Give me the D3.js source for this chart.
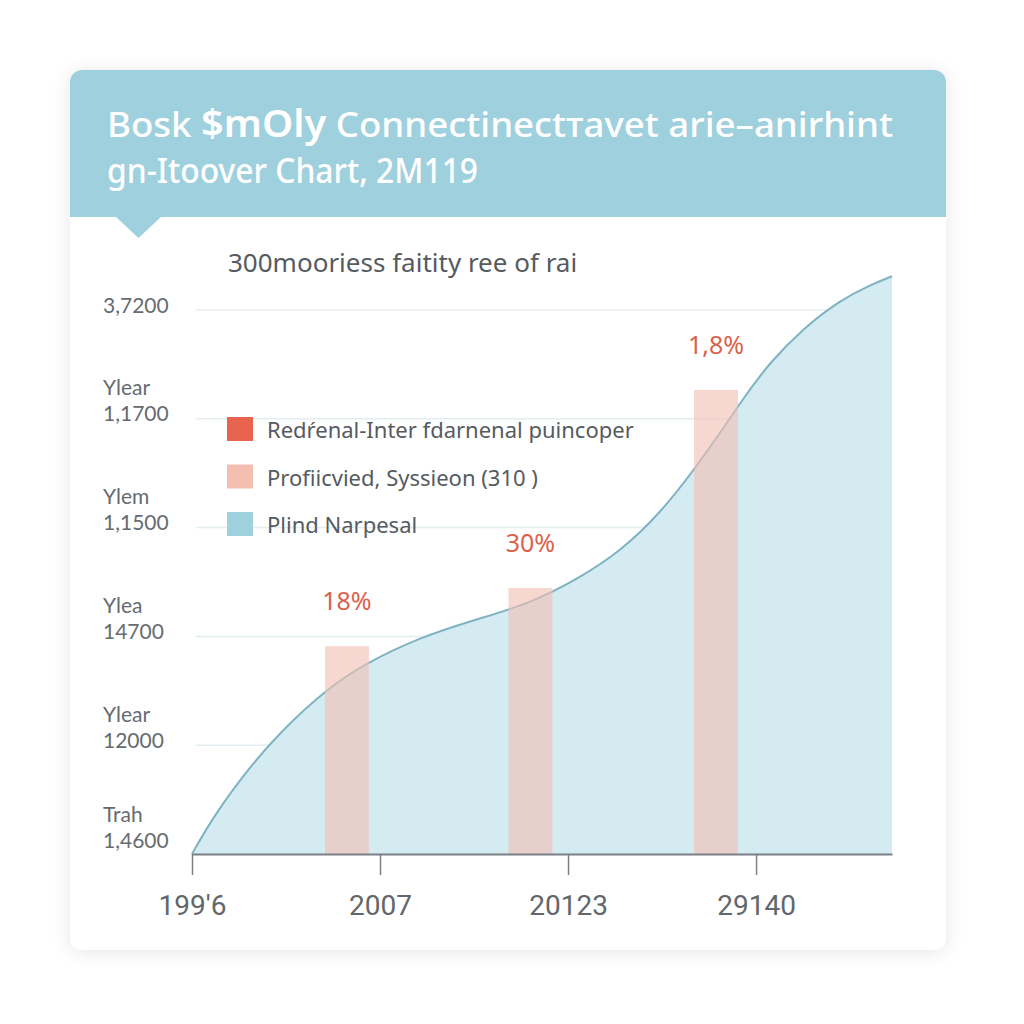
<!DOCTYPE html>
<html>
<head>
<meta charset="utf-8">
<script src="https://cdn.jsdelivr.net/npm/d3@7"></script>
<style>
  html, body { margin: 0; padding: 0; background: #ffffff; }
  svg { display: block; }
</style>
</head>
<body>
<script>
// ---- data ----
const titleLine1 = ["Bosk ", "$mOly", " Connectinectтavet arie–anirhint"];
const titleLine2 = "gn-Itoover Chart, 2M119";
const subtitle = "300mooriess faitity ree of rai";

const yTickValues = [5, 4, 3, 2, 1, 0];
const yTickNumbers = ["3,7200", "1,1700", "1,1500", "14700", "12000", "1,4600"];
const yTickWords = ["", "Ylear", "Ylem", "Ylea", "Ylear", "Trah"];

const xTickValues = [0, 1, 2, 3];
const xTickLabels = ["199'6", "2007", "20123", "29140"];

const curveX = [0, 0.112, 0.293, 0.468, 0.718, 0.931, 1.213, 1.479, 1.798, 2.064, 2.277, 2.489, 2.665, 2.809, 2.941, 3.074, 3.250, 3.447, 3.606, 3.723];
const curveY = [0, 0.34, 0.77, 1.12, 1.52, 1.76, 1.99, 2.14, 2.30, 2.54, 2.78, 3.13, 3.52, 3.87, 4.21, 4.52, 4.83, 5.09, 5.23, 5.31];

const barX = [0.824, 1.80, 2.787];
const barValues = [1.91, 2.445, 4.265];
const barLabels = ["18%", "30%", "1,8%"];

const legendLabels = ["Redŕenal-Inter fdarnenal puincoper", "Profiicvied, Syssieon (310 )", "Plind Narpesal"];
const legendColors = ["#e8644f", "#f4bfb0", "#9fd0de"];

// ---- drawing ----
const W = 1024, H = 1024;
const svg = d3.select("body").append("svg").attr("width", W).attr("height", H);

const defs = svg.append("defs");
const f = defs.append("filter").attr("id", "shadow").attr("x", "-10%").attr("y", "-10%").attr("width", "120%").attr("height", "120%");
f.append("feDropShadow").attr("dx", 0).attr("dy", 2).attr("stdDeviation", 9).attr("flood-color", "#000").attr("flood-opacity", 0.10);
defs.append("clipPath").attr("id", "cardclip").append("rect")
  .attr("x", 70).attr("y", 70).attr("width", 876).attr("height", 880).attr("rx", 12);

// card
svg.append("rect").attr("x", 70).attr("y", 70).attr("width", 876).attr("height", 880)
  .attr("rx", 12).attr("fill", "#ffffff").attr("filter", "url(#shadow)");

const card = svg.append("g").attr("clip-path", "url(#cardclip)");
card.append("rect").attr("x", 70).attr("y", 70).attr("width", 876).attr("height", 147).attr("fill", "#9fd0de");
svg.append("path").attr("d", "M115,216 L162,216 L138.5,238 Z").attr("fill", "#9fd0de");

// title
const t1 = svg.append("text").attr("x", 107).attr("y", 137)
  .attr("textLength", 786).attr("lengthAdjust", "spacingAndGlyphs")
  .attr("font-family", "'Noto Sans', sans-serif").attr("font-size", 35).attr("fill", "#ffffff").attr("font-weight", 500);
t1.append("tspan").text(titleLine1[0]);
t1.append("tspan").attr("font-weight", 600).attr("font-size", 38).text(titleLine1[1]);
t1.append("tspan").text(titleLine1[2]);
svg.append("text").attr("x", 107).attr("y", 183)
  .attr("textLength", 371).attr("lengthAdjust", "spacingAndGlyphs")
  .attr("font-family", "'Noto Sans', sans-serif").attr("font-size", 35).attr("fill", "#ffffff").attr("font-weight", 500)
  .text(titleLine2);

// subtitle
svg.append("text").attr("x", 228).attr("y", 272)
  .attr("font-family", "'Noto Sans', sans-serif").attr("font-size", 26).attr("fill", "#555b60")
  .text(subtitle);

// scales
const x = d3.scaleLinear().domain([0, 3.723]).range([192, 892]);
const y = d3.scaleLinear().domain([0, 5]).range([854, 310]);

// gridlines
svg.append("g").selectAll("line").data(yTickValues.filter(v => v > 0)).join("line")
  .attr("x1", 196).attr("x2", x(3.723))
  .attr("y1", d => y(d)).attr("y2", d => y(d))
  .attr("stroke", "#e4edf1").attr("stroke-width", 1.5);

// y labels
const yl = svg.append("g").attr("font-family", "Lato, 'Noto Sans', sans-serif").attr("font-size", 21).attr("fill", "#666b70");
yTickValues.forEach((v, i) => {
  const cy = Math.min(y(v) - 6, y(0) - 15);
  yl.append("text").attr("x", 103).attr("y", cy).attr("dominant-baseline", "central").text(yTickNumbers[i]);
  if (yTickWords[i]) {
    yl.append("text").attr("x", 103).attr("y", cy - 26).attr("dominant-baseline", "central").text(yTickWords[i]);
  }
});

// area
const pts = curveX.map((d, i) => [d, curveY[i]]);
const cv = d3.curveBasis;
const area = d3.area().x(d => x(d[0])).y0(y(0)).y1(d => y(d[1])).curve(cv);
const line = d3.line().x(d => x(d[0])).y(d => y(d[1])).curve(cv);
svg.append("path").datum(pts).attr("d", area).attr("fill", "#d4ebf2");
svg.append("path").datum(pts).attr("d", line).attr("fill", "none").attr("stroke", "#7fb3c2").attr("stroke-width", 2);

// bars
const bw = 44;
svg.append("g").selectAll("rect").data(barValues).join("rect")
  .attr("x", (d, i) => x(barX[i]) - bw / 2)
  .attr("width", bw)
  .attr("y", d => y(d))
  .attr("height", d => y(0) - y(d))
  .attr("fill", "#f2c0b3").attr("opacity", 0.62);

svg.append("g").selectAll("text").data(barValues).join("text")
  .attr("x", (d, i) => x(barX[i]))
  .attr("y", d => y(d) - 46)
  .attr("text-anchor", "middle").attr("dominant-baseline", "central")
  .attr("font-family", "'Noto Sans', sans-serif").attr("font-size", 25).attr("fill", "#d9634c")
  .text((d, i) => barLabels[i]);

// x axis
const xAxis = d3.axisBottom(x).tickValues(xTickValues).tickFormat((d, i) => xTickLabels[i]).tickSize(21).tickSizeOuter(0);
const gx = svg.append("g").attr("transform", `translate(0,${y(0)})`).call(xAxis);
gx.select(".domain").attr("stroke", "#7b8086").attr("stroke-width", 2);
gx.selectAll(".tick line").attr("stroke", "#7b8086").attr("stroke-width", 1.5);
gx.selectAll(".tick text").attr("font-family", "Roboto, 'Noto Sans', sans-serif").attr("font-size", 28)
  .attr("fill", "#62676c").attr("dy", 0).attr("y", 51).attr("dominant-baseline", "central");

// legend
const lg = svg.append("g");
legendLabels.forEach((lab, i) => {
  const cy = 429 + i * 47.5;
  lg.append("rect").attr("x", 227).attr("y", cy - 12).attr("width", 26).attr("height", 24).attr("fill", legendColors[i]);
  lg.append("text").attr("x", 267).attr("y", cy).attr("dominant-baseline", "central")
    .attr("font-family", "'Noto Sans', sans-serif").attr("font-size", 22).attr("fill", "#555b60").text(lab);
});
</script>
</body>
</html>
